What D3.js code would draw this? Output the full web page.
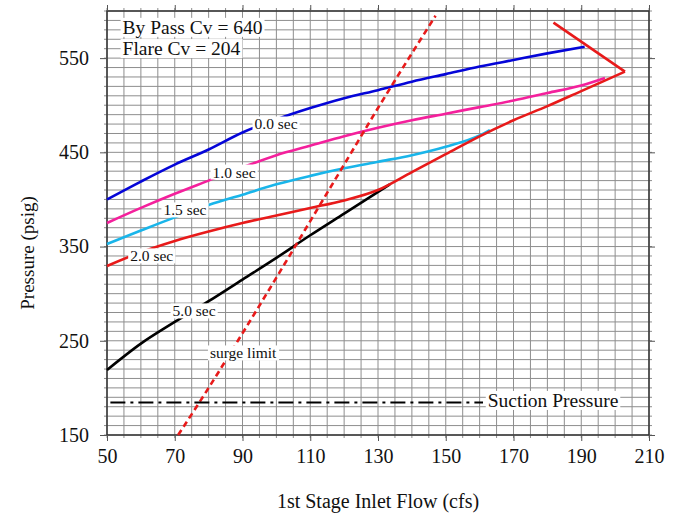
<!DOCTYPE html>
<html>
<head>
<meta charset="utf-8">
<script src="https://cdn.jsdelivr.net/npm/d3@7"></script>
<style>
  body { margin: 0; background: #fff; }
  text { font-family: "Liberation Serif", "Times New Roman", serif; fill: #111; }
</style>
</head>
<body>
<svg id="chart" width="675" height="515"></svg>
<script>
// Curves: [flow (cfs), pressure (psig)]
const sec00 = [[50,400],[60,419],[70,437],[80,453],[90,471],[100,485],[110,497],[120,507.5],[130,516],[140,525],[150,533],[160,541],[170,548],[180,555],[191,562]];
const sec10 = [[50,375],[60,391],[70,406],[80,420],[90,434],[100,447],[110,457],[120,467],[130,476],[140,484],[150,491],[160,498],[170,505],[180,513],[190,521],[197,529]];
const sec15 = [[50,352.7],[60,367],[70,381],[80,394],[90,405],[100,416],[110,425],[120,433],[130,440],[140,447],[150,456],[160,468],[163,473.7]];
const sec20 = [[50,329.4],[60,344],[70,356],[80,366],[90,375],[100,383],[110,391],[120,399],[130,410],[140,429],[150,448],[160,467],[170,484],[180,499],[190,515],[202.9,535.6]];
const sec20Spur = [[202.9,535.6],[181.8,587.6]];
const sec50 = [[50,219],[60,247],[70,270],[80,292],[90,315],[100,338],[110,362],[120,385],[133.5,416]];
const surge = [[71,150],[80,200],[90,258],[100,317],[110,377],[120,437],[130,497],[147,595]];
const suction = [[51,184.5],[161,184.5]];

const xTicks = [50, 70, 90, 110, 130, 150, 170, 190, 210];
const yTicks = [150, 250, 350, 450, 550];

// text labels placed in data units
const notes = [
  { t: "By Pass Cv = 640", x: 54.6, y: 583, size: 19.5, anchor: "start" },
  { t: "Flare Cv = 204", x: 54.6, y: 560.5, size: 19.5, anchor: "start" },
  { t: "0.0 sec", x: 99.9, y: 480, size: 15.5, anchor: "middle" },
  { t: "1.0 sec", x: 87.5, y: 429, size: 15.5, anchor: "middle" },
  { t: "1.5 sec", x: 73, y: 388.8, size: 15.5, anchor: "middle" },
  { t: "2.0 sec", x: 63.2, y: 340, size: 15.5, anchor: "middle" },
  { t: "5.0 sec", x: 75.7, y: 281.6, size: 15.5, anchor: "middle" },
  { t: "surge limit", x: 90.2, y: 237, size: 15.5, anchor: "middle" },
  { t: "Suction Pressure", x: 162.4, y: 187, size: 19.5, anchor: "start" }
];

const svg = d3.select("#chart");
const x = d3.scaleLinear().domain([50, 210]).range([107, 649]);
const y = d3.scaleLinear().domain([150, 600]).range([435, 11]);
const [x0, x1] = x.range();
const [y0, y1] = y.range();

// grid, every 5 cfs and 10 psig, poking a little out of the frame
const grid = svg.append("g").attr("stroke", "#8e8e8e").attr("stroke-width", 1);
grid.selectAll(".gx").data(d3.range(50, 211, 5)).enter().append("line")
  .attr("x1", d => x(d)).attr("x2", d => x(d))
  .attr("y1", y1 - 3).attr("y2", y0 + 3);
grid.selectAll(".gy").data(d3.range(150, 601, 10)).enter().append("line")
  .attr("y1", d => y(d)).attr("y2", d => y(d))
  .attr("x1", x0 - 3).attr("x2", x1 + 3);

// frame
svg.append("rect")
  .attr("x", x0).attr("y", y1)
  .attr("width", x1 - x0).attr("height", y0 - y1)
  .attr("fill", "none").attr("stroke", "#333").attr("stroke-width", 1.5);

// axes
svg.append("g").attr("transform", `translate(0,${y0})`)
  .call(d3.axisBottom(x).tickValues(xTicks).tickSize(6).tickPadding(8));
svg.append("g").attr("transform", `translate(${x0},0)`)
  .call(d3.axisLeft(y).tickValues(yTicks).tickSize(7).tickPadding(11));
svg.append("g").attr("transform", `translate(0,${y1})`)
  .call(d3.axisTop(x).tickValues(xTicks).tickSize(6).tickFormat(""));
svg.append("g").attr("transform", `translate(${x1},0)`)
  .call(d3.axisRight(y).tickValues(yTicks).tickSize(6).tickFormat(""));
svg.selectAll(".domain").remove();
svg.selectAll(".tick line").attr("stroke", "#555");
svg.selectAll(".tick text")
  .style("font-family", '"Liberation Serif", serif')
  .style("font-size", "20px").attr("fill", "#111");

// curves
const smooth = d3.line().x(d => x(d[0])).y(d => y(d[1])).curve(d3.curveMonotoneX);
const straight = d3.line().x(d => x(d[0])).y(d => y(d[1]));

const series = [
  { d: sec00, c: "#0505d8", line: smooth },
  { d: sec10, c: "#f4209c", line: smooth },
  { d: sec15, c: "#19b5ea", line: smooth },
  { d: sec50, c: "#000000", line: smooth },
  { d: sec20, c: "#e81a1a", line: smooth },
  { d: sec20Spur, c: "#e81a1a", line: straight },
  { d: surge, c: "#e81a1a", line: smooth, dash: "6,4" },
  { d: suction, c: "#000000", line: straight, dash: "15,5,3,5", w: 2 }
];
svg.selectAll(".curve").data(series).enter().append("path")
  .attr("d", s => s.line(s.d))
  .attr("fill", "none")
  .attr("stroke", s => s.c)
  .attr("stroke-width", s => s.w || 2.6)
  .attr("stroke-dasharray", s => s.dash || null)
  .attr("stroke-linejoin", "round");

// labels with white boxes
notes.forEach(n => {
  const g = svg.append("g");
  const t = g.append("text")
    .attr("x", x(n.x)).attr("y", y(n.y))
    .attr("dy", "0.35em")
    .attr("text-anchor", n.anchor)
    .style("font-size", n.size + "px")
    .text(n.t);
  const b = t.node().getBBox();
  g.insert("rect", "text")
    .attr("x", b.x - 2).attr("y", b.y + 1)
    .attr("width", b.width + 4).attr("height", b.height - 2)
    .attr("fill", "#fff");
});

// axis titles
svg.append("text")
  .attr("x", 378).attr("y", 508)
  .attr("text-anchor", "middle")
  .style("font-size", "20px")
  .text("1st Stage Inlet Flow (cfs)");
svg.append("text")
  .attr("transform", "translate(34,253) rotate(-90)")
  .attr("text-anchor", "middle")
  .style("font-size", "19px")
  .text("Pressure (psig)");
</script>
</body>
</html>
